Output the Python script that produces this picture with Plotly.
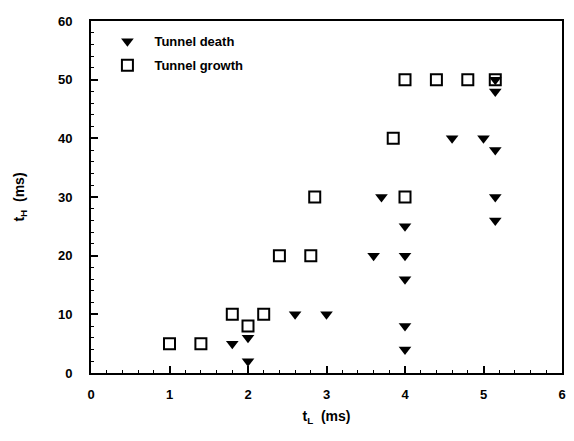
import plotly.graph_objects as go

growth_x = [1.0, 1.4, 1.8, 2.0, 2.2, 2.4, 2.8, 2.85, 3.85, 4.0, 4.0, 4.4, 4.8, 5.15]
growth_y = [5, 5, 10, 8, 10, 20, 20, 30, 40, 30, 50, 50, 50, 50]
death_x = [1.8, 2.0, 2.0, 2.6, 3.0, 3.6, 3.7, 4.0, 4.0, 4.0, 4.0, 4.0, 4.6, 5.0, 5.15, 5.15, 5.15, 5.15, 5.15]
death_y = [5, 6, 2, 10, 10, 20, 30, 25, 20, 16, 8, 4, 40, 40, 50, 48, 38, 30, 26]
x_ticks = [0, 1, 2, 3, 4, 5, 6]
y_ticks = [0, 10, 20, 30, 40, 50, 60]

fam = "Liberation Sans, Arial, sans-serif"

fig = go.Figure()
fig.add_trace(go.Scatter(
    x=growth_x, y=growth_y, mode="markers", name="<b>Tunnel growth</b>",
    legendgroup="g", legendrank=2,
    marker=dict(symbol="square-open", size=11, color="black", line=dict(width=2, color="black")),
))
fig.add_trace(go.Scatter(
    x=death_x, y=death_y, mode="markers", name="<b>Tunnel death</b>",
    legendgroup="d", legendrank=1,
    marker=dict(symbol="triangle-down", size=11, color="black", line=dict(width=0)),
))

axis_common = dict(
    showline=True, linecolor="black", linewidth=2, mirror=True,
    ticks="inside", tickcolor="black", tickwidth=1.5, ticklen=7,
    showgrid=False, zeroline=False,
    tickfont=dict(family=fam, size=13, color="black"),
)

fig.update_xaxes(
    range=[0, 6], tickvals=x_ticks, ticktext=["<b>%d</b>" % v for v in x_ticks],
    minor=dict(dtick=0.2, ticks="inside", ticklen=3, tickcolor="black", tickwidth=1),
    ticklabelstandoff=8,
    title=dict(text="<b>t<sub>L</sub>  (ms)</b>", font=dict(family=fam, size=14, color="black"), standoff=11),
    **axis_common,
)
fig.update_yaxes(
    range=[0, 60], tickvals=y_ticks, ticktext=["<b>%d</b>" % v for v in y_ticks],
    minor=dict(dtick=2, ticks="inside", ticklen=3, tickcolor="black", tickwidth=1),
    ticklabelstandoff=14,
    title=dict(text="<b>t<sub>H</sub>  (ms)</b>", font=dict(family=fam, size=14, color="black"), standoff=30),
    **axis_common,
)

fig.update_layout(
    width=574, height=441,
    margin=dict(l=91, r=8, t=21, b=68),
    paper_bgcolor="white", plot_bgcolor="white",
    font=dict(family=fam, size=13, color="black"),
    showlegend=True,
    legend=dict(
        x=0.02, y=0.985, xanchor="left", yanchor="top",
        bgcolor="rgba(0,0,0,0)", borderwidth=0,
        tracegroupgap=4, itemwidth=44,
        font=dict(family=fam, size=13, color="black"),
    ),
)

fig.write_html("out.html", config={"displayModeBar": False},
               post_script="document.body.style.margin='0';")
